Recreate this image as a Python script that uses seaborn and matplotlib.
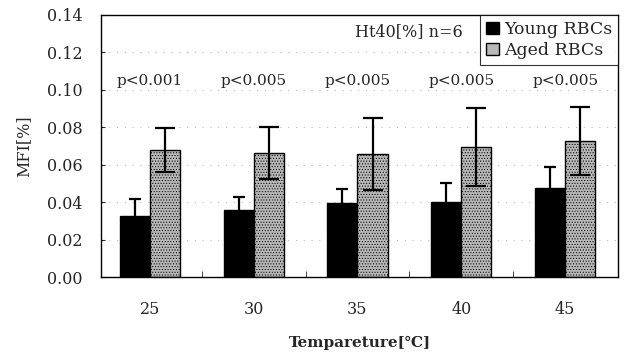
import numpy as np
import pandas as pd
import matplotlib
matplotlib.use("Agg")
import matplotlib.pyplot as plt
import seaborn as sns

# Values
temps = ["25", "30", "35", "40", "45"]
young_mean = [0.0325, 0.0358, 0.0395, 0.0400, 0.0478]
young_err = [0.0090, 0.0070, 0.0075, 0.0105, 0.0110]
aged_mean = [0.0680, 0.0663, 0.0657, 0.0695, 0.0727]
aged_err = [0.0118, 0.0140, 0.0190, 0.0210, 0.0180]
p_labels = ["p<0.001", "p<0.005", "p<0.005", "p<0.005", "p<0.005"]
groups = ["Young RBCs", "Aged RBCs"]

df = pd.DataFrame({
    "temp": temps * 2,
    "mfi": young_mean + aged_mean,
    "group": [groups[0]] * 5 + [groups[1]] * 5,
})

sns.set_style("ticks")
plt.rcParams["font.family"] = ["DejaVu Serif"]
plt.rcParams["hatch.linewidth"] = 0.45

fig = plt.figure(figsize=(6.25, 3.57), dpi=100)
ax = fig.add_axes([0.1616, 0.224, 0.8274, 0.734])

sns.barplot(data=df, x="temp", y="mfi", hue="group", palette=["black", "#b8b8b8"],
            edgecolor="black", linewidth=1.0, width=0.58, errorbar=None, ax=ax)

# young caps are narrower than aged caps in the original
for cont, errs, cap in zip(ax.containers, [young_err, aged_err], [4.5, 7]):
    for bar, e in zip(cont, errs):
        ax.errorbar(bar.get_x() + bar.get_width() / 2, bar.get_height(), yerr=e,
                    fmt="none", ecolor="black", elinewidth=1.6, capsize=cap, capthick=1.6)

for bar in ax.containers[1]:
    bar.set_hatch("......")

for i, p in enumerate(p_labels):
    ax.text(i, 0.105, p, ha="center", va="center", fontsize=11)

ax.text(0.596, 0.935, "Ht40[%] n=6", transform=ax.transAxes, ha="center", va="center", fontsize=11.5)

ax.set_ylim(0, 0.14)
ax.set_xlim(-0.47, 4.51)
ax.set_yticks(np.arange(0, 0.141, 0.02))
ax.set_yticklabels([f"{v:.2f}" for v in np.arange(0, 0.141, 0.02)], fontsize=11.5)
ax.yaxis.grid(True, linestyle=(0, (1, 6)), color="#bbbbbb", linewidth=0.8)
ax.set_axisbelow(True)
ax.set_xticks([0.5, 1.5, 2.5, 3.5], minor=True)
ax.tick_params(axis="x", which="major", length=0, pad=17, labelsize=11.5)
ax.tick_params(axis="x", which="minor", direction="in", length=4)
ax.tick_params(axis="y", direction="in", length=3, pad=13)
for s in ax.spines.values():
    s.set_visible(True)
    s.set_color("black")
    s.set_linewidth(1.0)

ax.set_xlabel("Tempareture[℃]", fontsize=11, fontweight="bold", labelpad=13)
ax.set_ylabel("MFI[%]", fontsize=11.5, labelpad=11)

handles, labels = ax.get_legend_handles_labels()
leg = ax.legend(handles, labels, loc="upper right", bbox_to_anchor=(1.0, 1.0), frameon=True,
                fancybox=False, edgecolor="black", fontsize=12.5, handlelength=0.7,
                handleheight=0.7, handletextpad=0.3, borderpad=0.35, labelspacing=0.25,
                borderaxespad=0.0)
leg.get_frame().set_linewidth(0.8)

fig.savefig("out.png", dpi=100)
